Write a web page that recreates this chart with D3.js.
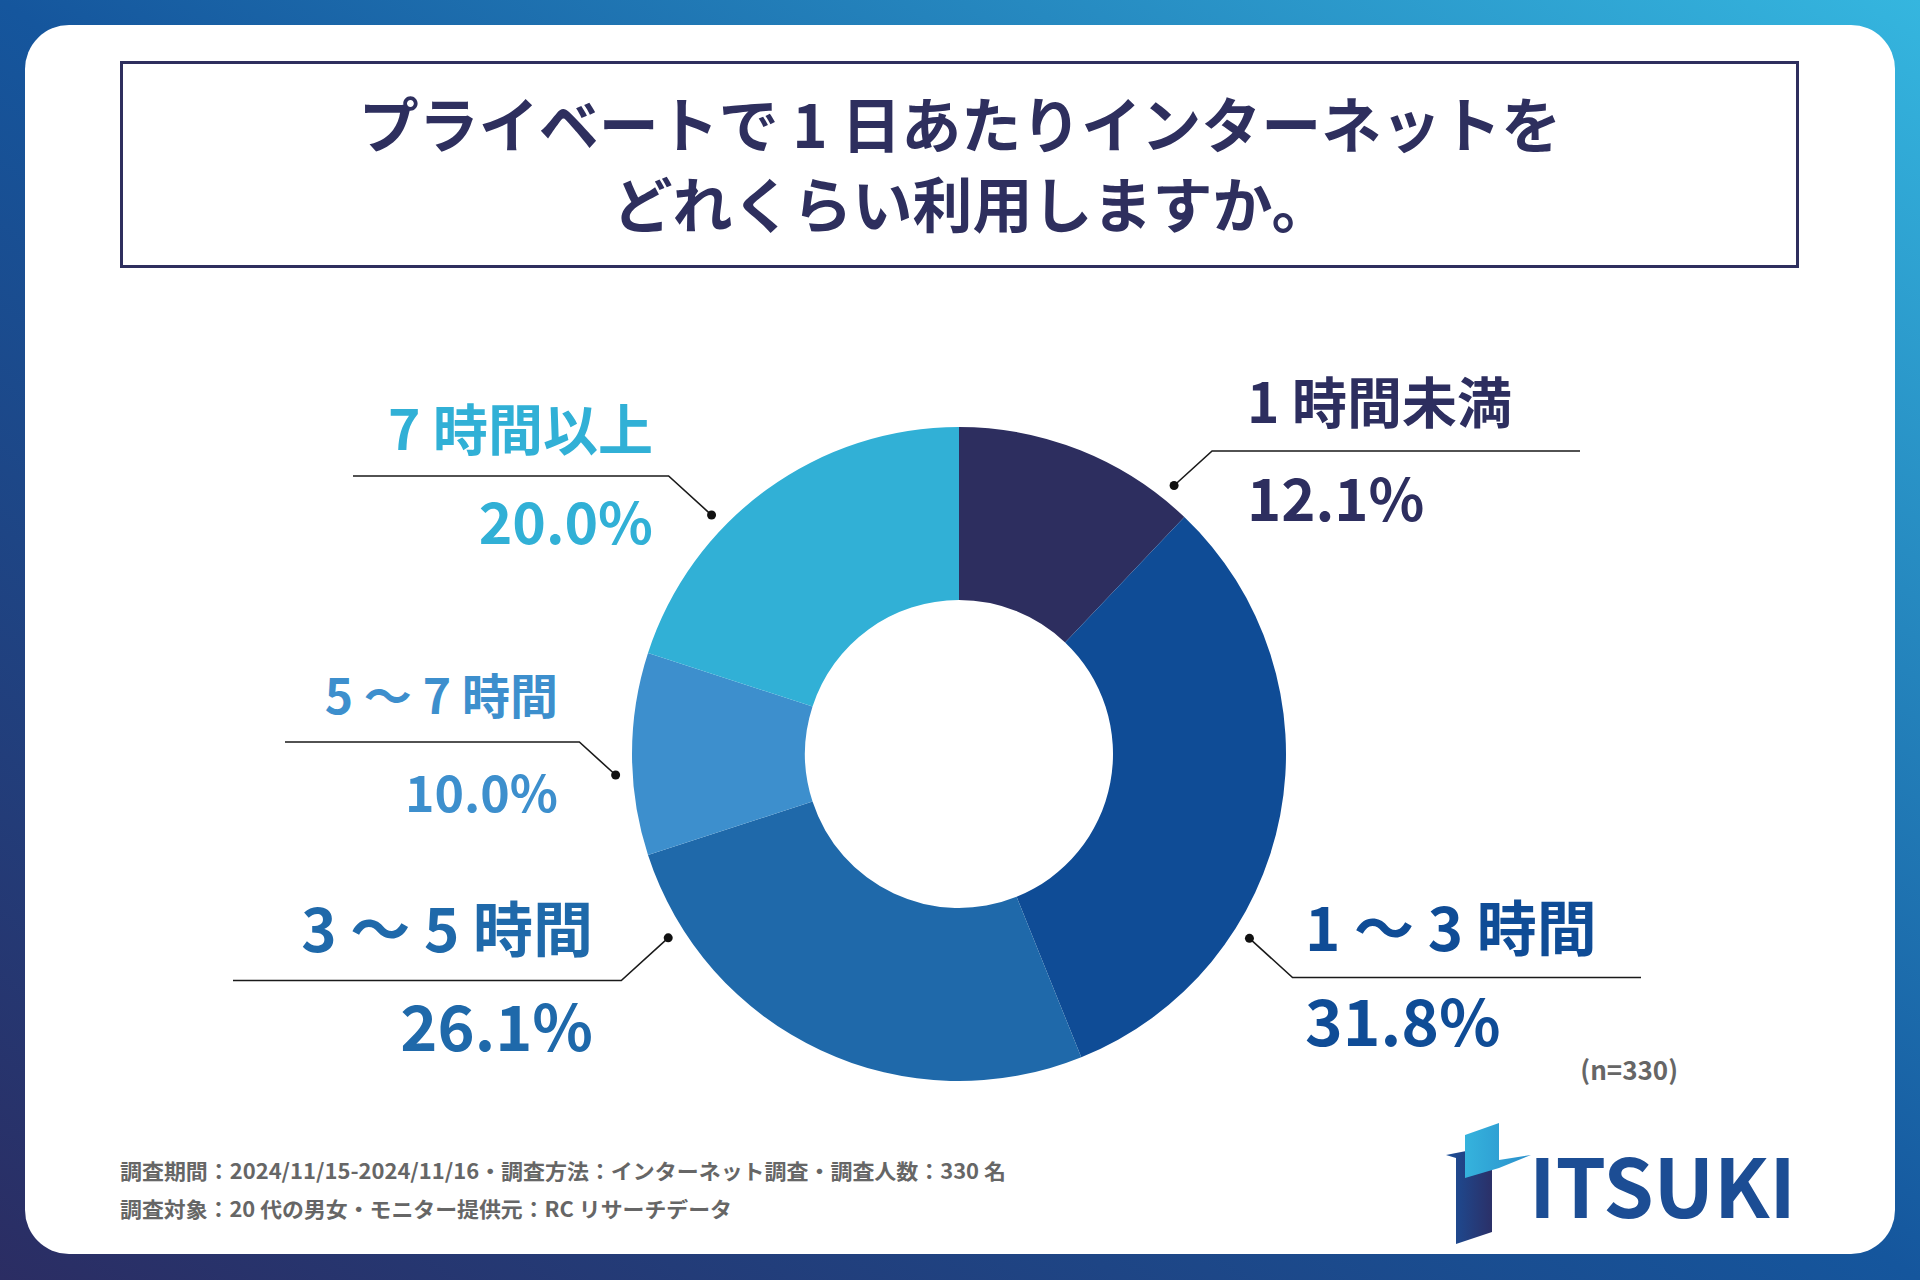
<!DOCTYPE html>
<html>
<head>
<meta charset="utf-8">
<script src="https://cdn.jsdelivr.net/npm/d3@7"></script>
<style>
  html, body { margin: 0; padding: 0; background: #fff; }
  svg { display: block; }
  text { font-family: "Noto Sans CJK JP", "Noto Sans", sans-serif; font-weight: 700; }
</style>
</head>
<body>
<div id="wrapper"></div>
<script>
// data
const categories = ["1 時間未満", "1 ～ 3 時間", "3 ～ 5 時間", "5 ～ 7 時間", "7 時間以上"];
const shares = [12.1, 31.8, 26.1, 10.0, 20.0];
const sliceColors = ["#2d2e5f", "#0f4c96", "#1f69aa", "#3d8fcd", "#31b0d6"];
const titleLines = ["プライベートで 1 日あたりインターネットを", "どれくらい利用しますか。"];
const sampleNote = "(n=330)";
const footerLines = [
    "調査期間：2024/11/15-2024/11/16・調査方法：インターネット調査・調査人数：330 名",
    "調査対象：20 代の男女・モニター提供元：RC リサーチデータ"
];

let dimension = {
    width: 1920,
    height: 1280,
    cx: 959,
    cy: 754,
    outer: 327,
    inner: 154
}

// where each callout sits: dot angle on ring, side, label box anchor
const callouts = [
    { angle: 38.7, side: 1, lineEnd: 1580, textX: 1247, nameY: 423, pctY: 521, nameSize: 55, pctSize: 58 },
    { angle: 122.4, side: 1, lineEnd: 1641, textX: 1305, nameY: 951, pctY: 1046, nameSize: 60, pctSize: 64 },
    { angle: 237.7, side: -1, lineEnd: 233, textX: 593, nameY: 952, pctY: 1051, nameSize: 60, pctSize: 63 },
    { angle: 266.5, side: -1, lineEnd: 285, textX: 558, nameY: 714, pctY: 812, nameSize: 48, pctSize: 50 },
    { angle: 314.0, side: -1, lineEnd: 353, textX: 653, nameY: 450, pctY: 544, nameSize: 55, pctSize: 57 }
];

function buildPlot() {
    const svg = d3.select("#wrapper").append("svg")
        .attr("width", dimension.width)
        .attr("height", dimension.height);

    const defs = svg.append("defs");
    const bg = defs.append("linearGradient")
        .attr("id", "bg")
        .attr("x1", "0").attr("y1", "1")
        .attr("x2", "1").attr("y2", "0");
    bg.append("stop").attr("offset", "0%").attr("stop-color", "#2b2d63");
    bg.append("stop").attr("offset", "50%").attr("stop-color", "#15569d");
    bg.append("stop").attr("offset", "100%").attr("stop-color", "#35b6df");

    const logoGrad = defs.append("linearGradient")
        .attr("id", "logoBar")
        .attr("x1", "0").attr("y1", "0").attr("x2", "1").attr("y2", "0");
    logoGrad.append("stop").attr("offset", "0%").attr("stop-color", "#1b4f98");
    logoGrad.append("stop").attr("offset", "100%").attr("stop-color", "#2b3068");

    const logoGrad2 = defs.append("linearGradient")
        .attr("id", "logoTop")
        .attr("x1", "0").attr("y1", "0").attr("x2", "1").attr("y2", "0");
    logoGrad2.append("stop").attr("offset", "0%").attr("stop-color", "#35b3dd");
    logoGrad2.append("stop").attr("offset", "100%").attr("stop-color", "#2a8fcb");

    svg.append("rect")
        .attr("width", dimension.width)
        .attr("height", dimension.height)
        .attr("fill", "url(#bg)");

    // white card
    svg.append("rect")
        .attr("x", 25).attr("y", 25)
        .attr("width", 1870).attr("height", 1229)
        .attr("rx", 44)
        .attr("fill", "#ffffff");

    // title box
    svg.append("rect")
        .attr("x", 121.5).attr("y", 62.5)
        .attr("width", 1676).attr("height", 204)
        .attr("fill", "none")
        .attr("stroke", "#2e2f5e")
        .attr("stroke-width", 3);

    svg.selectAll(".title")
        .data(titleLines)
        .enter()
        .append("text")
        .attr("class", "title")
        .attr("x", (d, i) => 960 + i * 12)
        .attr("y", (d, i) => 148 + i * 80)
        .attr("text-anchor", "middle")
        .attr("font-size", 60)
        .attr("fill", "#2e2f5e")
        .text(d => d);

    // donut
    const pie = d3.pie().sort(null).value(d => d);
    const arc = d3.arc().innerRadius(dimension.inner).outerRadius(dimension.outer);
    const arcs = pie(shares);

    const chart = svg.append("g")
        .attr("transform", `translate(${dimension.cx},${dimension.cy})`);

    chart.selectAll("path")
        .data(arcs)
        .enter()
        .append("path")
        .attr("d", arc)
        .attr("fill", (d, i) => sliceColors[i]);

    // callouts
    const dotR = dimension.outer + 17;
    callouts.forEach((c, i) => {
        const a = c.angle * Math.PI / 180;
        const dx = dimension.cx + Math.sin(a) * dotR;
        const dy = dimension.cy - Math.cos(a) * dotR;
        const lineY = (c.nameY + c.pctY) / 2 - 21;
        const bx = dx + c.side * Math.abs(lineY - dy) * 1.1;

        svg.append("path")
            .attr("d", d3.line()([[dx, dy], [bx, lineY], [c.lineEnd, lineY]]))
            .attr("fill", "none")
            .attr("stroke", "#1a1a1a")
            .attr("stroke-width", 1.6);

        svg.append("circle")
            .attr("cx", dx).attr("cy", dy)
            .attr("r", 4.5)
            .attr("fill", "#111");

        const anchor = c.side > 0 ? "start" : "end";
        svg.append("text")
            .attr("x", c.textX)
            .attr("y", c.nameY)
            .attr("text-anchor", anchor)
            .attr("font-size", c.nameSize)
            .attr("fill", sliceColors[i])
            .text(categories[i]);

        svg.append("text")
            .attr("x", c.textX)
            .attr("y", c.pctY)
            .attr("text-anchor", anchor)
            .attr("font-size", c.pctSize)
            .attr("fill", sliceColors[i])
            .text(d3.format(".1f")(shares[i]) + "%");
    });

    svg.append("text")
        .attr("x", 1678)
        .attr("y", 1080)
        .attr("text-anchor", "end")
        .attr("font-size", 26)
        .attr("fill", "#666")
        .text(sampleNote);

    // footer notes
    const footerWidths = [886, 612];
    svg.selectAll(".foot")
        .data(footerLines)
        .enter()
        .append("text")
        .attr("class", "foot")
        .attr("x", 120)
        .attr("y", (d, i) => 1179 + i * 38)
        .attr("font-size", 21)
        .attr("fill", "#666")
        .attr("textLength", (d, i) => footerWidths[i])
        .attr("lengthAdjust", "spacingAndGlyphs")
        .text(d => d);

    // logo
    const logo = svg.append("g");
    logo.append("path")
        .attr("d", "M1446,1155 L1456,1153 L1492,1146 L1492,1232 L1456,1244 L1456,1158 Z")
        .attr("fill", "url(#logoBar)");
    logo.append("path")
        .attr("d", "M1465,1135 L1499,1123 L1499,1160 L1531,1155 L1499,1168 L1465,1178 Z")
        .attr("fill", "url(#logoTop)");
    logo.append("text")
        .attr("x", 1529)
        .attr("y", 1218)
        .attr("font-family", "Roboto, 'Noto Sans', sans-serif")
        .attr("font-weight", 700)
        .attr("font-size", 81)
        .attr("textLength", 267)
        .attr("lengthAdjust", "spacing")
        .attr("fill", "#1c4d94")
        .text("ITSUKI");
}

buildPlot()
</script>
</body>
</html>
